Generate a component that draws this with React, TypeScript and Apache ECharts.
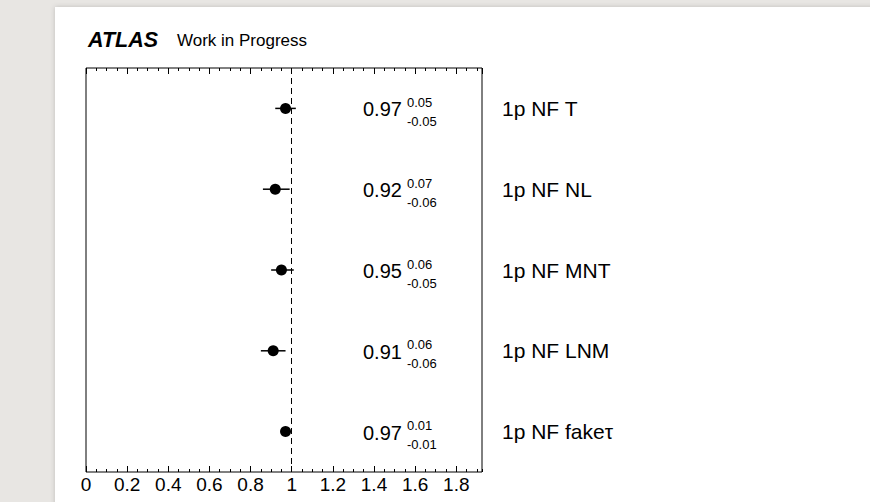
import React, { useEffect, useRef } from "react";
import * as echarts from "echarts";

// Normalisation factors per region, with asymmetric uncertainties
const categories = ["1p NF T", "1p NF NL", "1p NF MNT", "1p NF LNM", "1p NF fakeτ"];
const centralValues = [0.97, 0.92, 0.95, 0.91, 0.97];
const errorsUp = [0.05, 0.07, 0.06, 0.06, 0.01];
const errorsDown = [0.05, 0.06, 0.05, 0.06, 0.01];

// Horizontal axis
const xMin = 0;
const xMax = 1.925;
const xMajorStep = 0.2;
const xMinorStep = 0.05;
const referenceValue = 1;

const FONT = "'Liberation Sans', Arial, Helvetica, sans-serif";

const fmt = (v: number) => String(parseFloat(v.toFixed(2)));

export default function App() {
  const ref = useRef<HTMLDivElement>(null);

  useEffect(() => {
    if (!ref.current) return;
    const chart = echarts.init(ref.current, null, { renderer: "svg" });

    const points = centralValues.map((v, i) => [v, i]);
    const bars = centralValues.map((v, i) => [
      v,
      i,
      v - errorsDown[i],
      v + errorsUp[i],
      errorsUp[i],
      errorsDown[i],
    ]);

    const tickAxis = (position: "top" | "bottom", step: number, len: number, labels: boolean) => ({
      type: "value",
      position,
      min: xMin,
      max: xMax,
      interval: step,
      axisLine: { show: false },
      axisTick: { show: true, inside: true, length: len, lineStyle: { color: "#000", width: 1 } },
      axisLabel: labels
        ? {
            show: true,
            color: "#000",
            fontSize: 19,
            fontFamily: FONT,
            margin: 3,
            showMaxLabel: false,
            formatter: (v: number) => fmt(v),
          }
        : { show: false },
      splitLine: { show: false },
    });

    chart.setOption({
      animation: false,
      backgroundColor: "#e8e6e3",
      textStyle: { fontFamily: FONT },
      graphic: {
        elements: [
          {
            type: "rect",
            z: -100,
            shape: { x: 55, y: 7, width: 830, height: 510 },
            style: { fill: "#ffffff", shadowBlur: 5, shadowColor: "rgba(0,0,0,0.18)" },
          },
          {
            type: "text",
            x: 88,
            y: 40,
            style: {
              text: "ATLAS",
              fontFamily: FONT,
              fontSize: 21.5,
              fontWeight: "bold",
              fontStyle: "italic",
              fill: "#000",
              verticalAlign: "middle",
            },
          },
          {
            type: "text",
            x: 177,
            y: 40,
            style: {
              text: "Work in Progress",
              fontFamily: FONT,
              fontSize: 17,
              fill: "#000",
              verticalAlign: "middle",
            },
          },
        ],
      },
      grid: {
        left: 86,
        top: 68,
        width: 396,
        height: 404,
        show: true,
        borderColor: "#000",
        borderWidth: 1,
        backgroundColor: "transparent",
      },
      xAxis: [
        tickAxis("bottom", xMajorStep, 6, true),
        tickAxis("bottom", xMinorStep, 3, false),
        tickAxis("top", xMajorStep, 6, false),
        tickAxis("top", xMinorStep, 3, false),
      ],
      yAxis: {
        type: "category",
        data: categories,
        inverse: true,
        position: "right",
        axisLine: { show: false },
        axisTick: { show: false },
        splitLine: { show: false },
        axisLabel: {
          color: "#000",
          fontSize: 21,
          fontFamily: FONT,
          margin: 20,
          align: "left",
        },
      },
      series: [
        {
          type: "custom",
          xAxisIndex: 0,
          yAxisIndex: 0,
          data: bars,
          encode: { x: 0, y: 1 },
          clip: false,
          renderItem: (params: any, api: any) => {
            const idx = api.value(1);
            const lo = api.coord([api.value(2), idx]);
            const hi = api.coord([api.value(3), idx]);
            const cy = lo[1];
            const gx = params.coordSys.x;
            const valueX = gx + 277;
            const errX = gx + 321;
            return {
              type: "group",
              children: [
                {
                  type: "line",
                  shape: { x1: lo[0], y1: cy, x2: hi[0], y2: cy },
                  style: { stroke: "#000", lineWidth: 1.5 },
                },
                {
                  type: "text",
                  x: valueX,
                  y: cy + 1,
                  style: {
                    text: api.value(0).toFixed(2),
                    fontFamily: FONT,
                    fontSize: 20,
                    fill: "#000",
                    verticalAlign: "middle",
                  },
                },
                {
                  type: "text",
                  x: errX,
                  y: cy - 6,
                  style: {
                    text: api.value(4).toFixed(2),
                    fontFamily: FONT,
                    fontSize: 13,
                    fill: "#000",
                    verticalAlign: "middle",
                  },
                },
                {
                  type: "text",
                  x: errX,
                  y: cy + 13,
                  style: {
                    text: "-" + api.value(5).toFixed(2),
                    fontFamily: FONT,
                    fontSize: 13,
                    fill: "#000",
                    verticalAlign: "middle",
                  },
                },
              ],
            };
          },
        },
        {
          type: "scatter",
          xAxisIndex: 0,
          yAxisIndex: 0,
          data: points,
          symbol: "circle",
          symbolSize: 11,
          itemStyle: { color: "#000", opacity: 1 },
          z: 5,
          markLine: {
            silent: true,
            symbol: ["none", "none"],
            label: { show: false },
            lineStyle: { color: "#000", width: 1, type: [6, 4], opacity: 1 },
            data: [{ xAxis: referenceValue }],
          },
        },
      ],
    });

    return () => chart.dispose();
  }, []);

  return (
    <div
      ref={ref}
      style={{ position: "fixed", left: 0, top: 0, width: 870, height: 502 }}
    />
  );
}
